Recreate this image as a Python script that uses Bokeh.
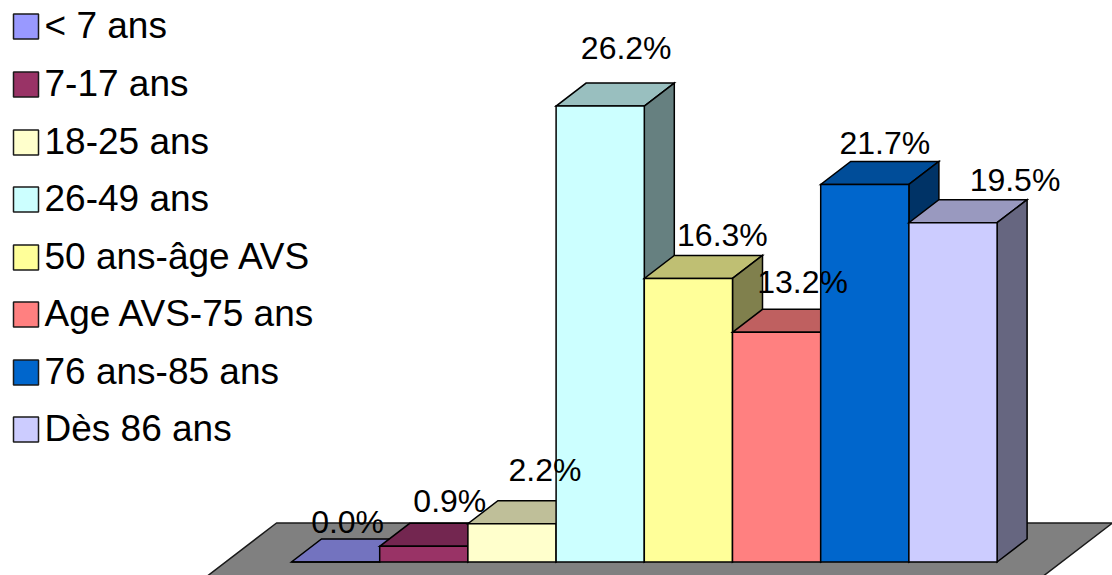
from bokeh.core.properties import value
from bokeh.embed import file_html
from bokeh.models import ColumnDataSource, Range1d
from bokeh.plotting import figure
from bokeh.resources import INLINE

categories = ["< 7 ans", "7-17 ans", "18-25 ans", "26-49 ans", "50 ans-âge AVS",
              "Age AVS-75 ans", "76 ans-85 ans", "Dès 86 ans"]
values = [0.0, 0.9, 2.2, 26.2, 16.3, 13.2, 21.7, 19.5]
colors = ["#9999FF", "#993366", "#FFFFCC", "#CCFFFF", "#FFFF99", "#FF8080", "#0066CC", "#CCCCFF"]
top_colors = ["#7373BF", "#732650", "#BFBF99", "#99BFBF", "#BFBF73", "#BF6060", "#004D99", "#9999BF"]
side_colors = ["#4D4D80", "#4D1A33", "#808066", "#668080", "#80804D", "#804040", "#003366", "#666680"]

# pixel offsets of each value label from the top centre of its bar
label_dx = [12, 26, 33, 26, 34, 26, 20, 62]
label_dy = [40, 45, 54, 58, 43, 50, 41, 43]
legend_rows = [26, 84, 142, 199, 257, 314, 372, 429]

W, H = 1112, 575
ORIGIN_X, ORIGIN_Y = 291.0, 561.5   # position of (0, 0) in the figure
SX, SY = 88.2, 17.4                 # pixels per bar, pixels per percent
DEPTH_X, DEPTH_Y = 30 / SX, 23 / SY


def px(x):
    return (x - ORIGIN_X) / SX


def py(y):
    return (ORIGIN_Y - y) / SY


p = figure(width=W, height=H, output_backend="svg", toolbar_location=None,
           x_range=Range1d(px(0), px(W)),
           y_range=Range1d(py(H), py(0)),
           min_border=0, outline_line_color=None, background_fill_color="white",
           border_fill_color="white")
p.axis.visible = False
p.grid.visible = False

# floor
floor_back, floor_front = py(522.5), py(590)
shift = (floor_back - floor_front) * SY * (30 / 23) / SX
p.patch([px(276), px(1112), px(1112) - shift, px(276) - shift],
        [floor_back, floor_back, floor_front, floor_front],
        fill_color="#808080", line_color="#1a1a1a", line_width=1.5)

# bars, painted from left to right
xs, ys, fills = [], [], []
for i, v in enumerate(values):
    l, r = float(i), float(i + 1)
    xs.append([l, r, r + DEPTH_X, l + DEPTH_X])
    ys.append([v, v, v + DEPTH_Y, v + DEPTH_Y])
    fills.append(top_colors[i])
    xs.append([r, r + DEPTH_X, r + DEPTH_X, r])
    ys.append([0, DEPTH_Y, v + DEPTH_Y, v])
    fills.append(side_colors[i])
    xs.append([l, r, r, l])
    ys.append([0, 0, v, v])
    fills.append(colors[i])
p.patches(xs, ys, fill_color=fills, line_color="black", line_width=1.5, line_join="miter")

# value labels
labels = ColumnDataSource(dict(
    x=[i + 0.5 for i in range(len(values))],
    y=values,
    text=[f"{v:.1f}%" for v in values],
    dx=label_dx,
    dy=[-d for d in label_dy],
))
p.text("x", "y", text="text", source=labels, x_offset="dx", y_offset="dy",
       text_font=value("Liberation Sans"), text_font_size="32px", text_color="black",
       text_align="center", text_baseline="alphabetic")

# legend
p.quad(left=[px(13)] * 8, right=[px(38)] * 8,
       top=[py(r - 12.5) for r in legend_rows], bottom=[py(r + 12.5) for r in legend_rows],
       fill_color=colors, line_color="#1a1a1a", line_width=1.5)
p.text([px(44)] * 8, [py(r - 1) for r in legend_rows], text=categories,
       text_font=value("Liberation Sans"), text_font_size="37px", text_color="black",
       text_align="left", text_baseline="alphabetic")

open("out.html", "w").write(file_html(p, INLINE))
